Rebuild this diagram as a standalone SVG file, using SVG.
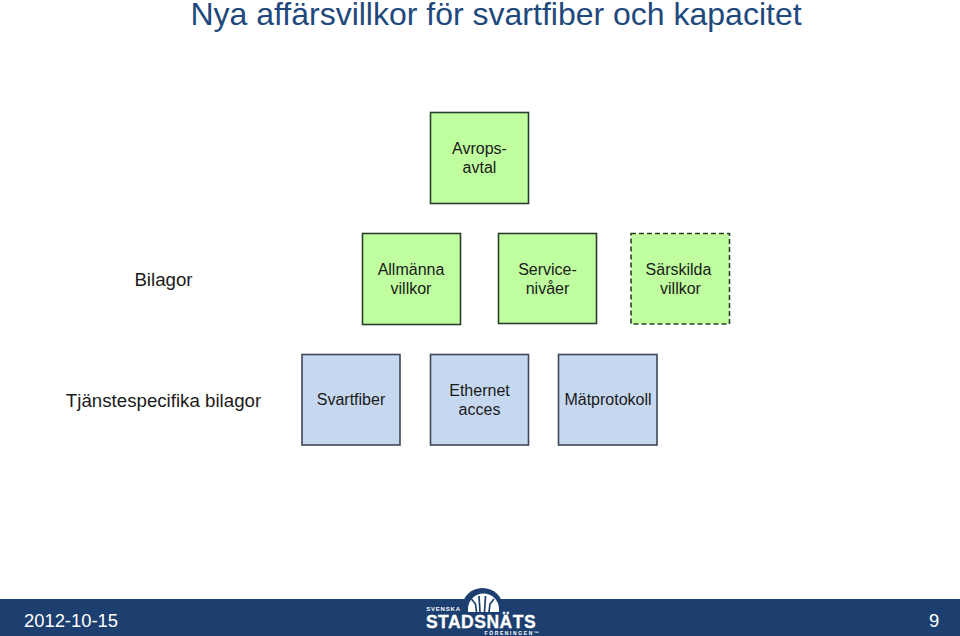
<svg xmlns="http://www.w3.org/2000/svg" width="960" height="636" viewBox="0 0 960 636">
<style>
text{font-family:"Liberation Sans",Arial,sans-serif;text-anchor:middle}
.n{font-size:16px;fill:#1a1a1a}
.g{fill:#bfff9f;stroke:#2c3f2c;stroke-width:1.6}
.b{fill:#c6d8f0;stroke:#3c4656;stroke-width:1.6}
.l{font-size:18.7px;fill:#1a1a1a}
.f{font-size:18.4px;fill:#fff}
.logo{font-weight:700;fill:#fff}
</style>
<rect width="960" height="636" fill="#fff"/>
<text id="title" x="496" y="25" fill="#1f497d" style="font-size:32px">Nya affärsvillkor för svartfiber och kapacitet</text>
<g id="avrops"><rect class="g" x="430.500" y="112.500" width="98" height="91"/><text class="n" x="479.500" y="154">Avrops-</text><text class="n" x="479.500" y="173">avtal</text></g>
<text class="l" x="163.500" y="286">Bilagor</text>
<g id="allmanna"><rect class="g" x="362.500" y="233.500" width="98" height="91"/><text class="n" x="411" y="275">Allmänna</text><text class="n" x="411" y="294">villkor</text></g>
<g id="service"><rect class="g" x="498.500" y="233.500" width="98" height="90"/><text class="n" x="547.500" y="275">Service-</text><text class="n" x="547.500" y="294">nivåer</text></g>
<g id="sarskilda"><rect class="g" x="631" y="233.500" width="98.500" height="90.500" stroke-dasharray="5 3"/><text class="n" x="678.500" y="275">Särskilda</text><text class="n" x="680.500" y="294">villkor</text></g>
<text class="l" x="163.500" y="407">Tjänstespecifika bilagor</text>
<g id="svartfiber"><rect class="b" x="302" y="354.500" width="98" height="90.500"/><text class="n" x="351" y="405">Svartfiber</text></g>
<g id="ethernet"><rect class="b" x="430.500" y="354.500" width="98" height="90.500"/><text class="n" x="479.500" y="396">Ethernet</text><text class="n" x="479.500" y="415">acces</text></g>
<g id="matprotokoll"><rect class="b" x="558.500" y="354.500" width="98.500" height="90.500"/><text class="n" x="608" y="405">Mätprotokoll</text></g>
<rect id="footer" x="0" y="599" width="960" height="37" fill="#1c3f70"/>
<text class="f" x="71" y="627">2012-10-15</text>
<text class="f" x="934" y="627">9</text>
<g id="logo">
<path d="M462 612v-4a20.500 20 0 0 1 41 0v4z" fill="#1c3f70"/>
<path d="M468 612v-3a15.500 15.500 0 0 1 31 0v3z" fill="#fff"/>
<path d="M476.500 612l-1-8-4-5M480 612l-1-16M484.500 612l1-16M489 612l1-8 4-5" stroke="#1c3f70" stroke-width="1.700" fill="none"/>
<text class="logo" x="443.500" y="611" style="font-size:6px;letter-spacing:.8px">SVENSKA</text>
<text class="logo" x="481" y="627.500" stroke="#fff" stroke-width=".3" style="font-size:17.500px;letter-spacing:.5px">STADSNÄTS</text>
<text class="logo" x="512.500" y="634.500" style="font-size:5px;letter-spacing:1.600px">FÖRENINGEN™</text>
</g>
</svg>
